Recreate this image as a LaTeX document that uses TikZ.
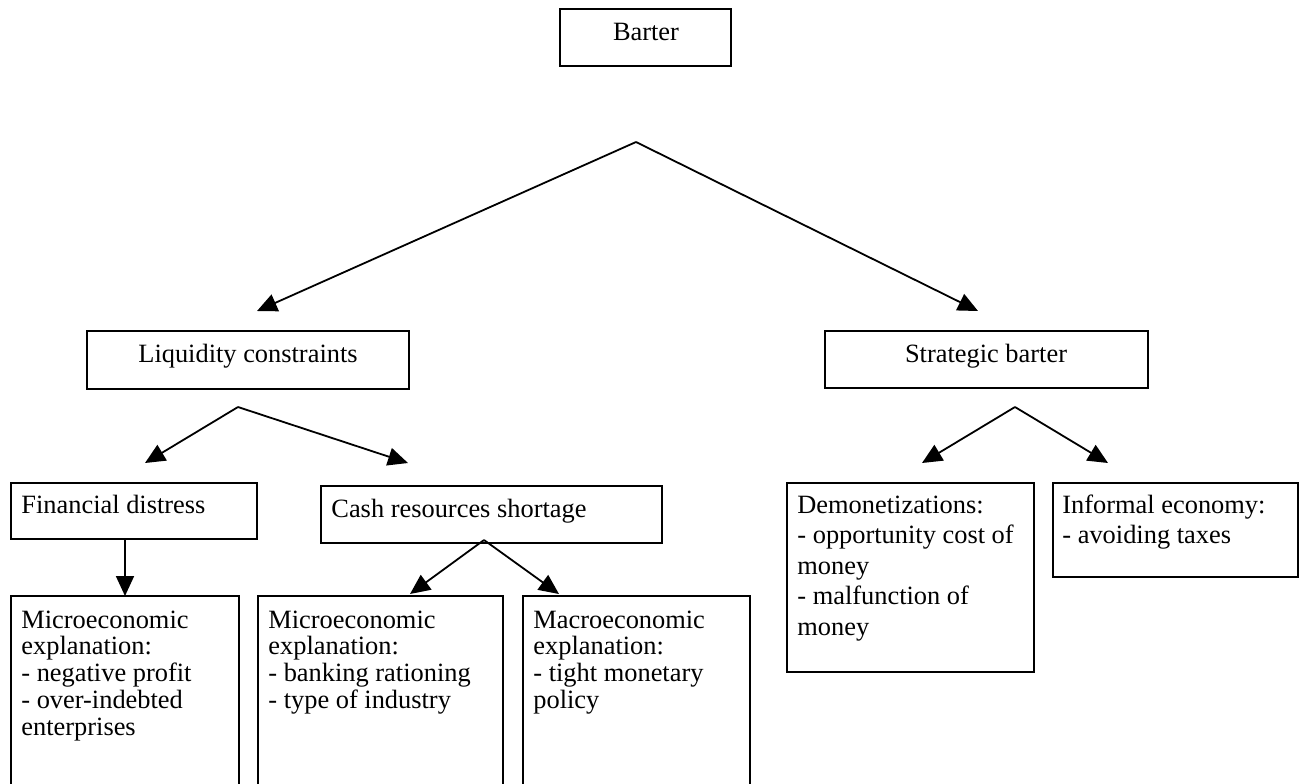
\documentclass[tikz,border=0pt]{standalone}
\usepackage{fontspec}
\setmainfont{Liberation Serif}
\usetikzlibrary{arrows.meta,positioning}

\newcommand{\boxlines}[1]{\begin{tabular}[t]{@{}l@{}}#1\end{tabular}}

\begin{document}
\begin{tikzpicture}[x=0.5pt, y=-0.5pt,
    box/.style={draw, line width=1pt, anchor=north west, inner sep=0pt, outer sep=0pt},
    txt/.style={anchor=base west, inner sep=0pt, font=\fontsize{13.2}{13.4}\selectfont},
    txtwide/.style={txt, font=\fontsize{13.2}{15.25}\selectfont},
    title/.style={txt, anchor=base},
    arr/.style={-{Triangle[length=10pt, width=9pt]}, line width=0.9pt}]
    \useasboundingbox (0,0) rectangle (1299,783);
    \clip (0,0) rectangle (1299,783);

    % Top level
    \node[box, minimum width=85.5pt, minimum height=28.5pt] (barter) at (560,9) {};
    \node[title] (barter-t) at (646,40) {Barter};

    % Second level
    \node[box, minimum width=161pt, minimum height=29pt] (liq) at (87,331) {};
    \node[title] (liq-t) at (248,362) {Liquidity constraints};
    \node[box, minimum width=161.5pt, minimum height=28.5pt] (strat) at (825,331) {};
    \node[title] (strat-t) at (986,362) {Strategic barter};

    % Third level
    \node[box, minimum width=123pt, minimum height=28pt] (fin) at (11,483) {};
    \node[txt] (fin-t) at (21,513) {Financial distress};
    \node[box, minimum width=170.5pt, minimum height=28.5pt] (cash) at (321,486) {};
    \node[txt] (cash-t) at (331,517) {Cash resources shortage};
    \node[box, minimum width=123.5pt, minimum height=94.5pt] (demon) at (787,483) {};
    \node[txtwide] (demon-t) at (797,513) {\boxlines{Demonetizations:\\- opportunity cost of\\money\\- malfunction of\\money}};
    \node[box, minimum width=122.5pt, minimum height=47pt] (informal) at (1053,483) {};
    \node[txtwide] (informal-t) at (1062,513) {\boxlines{Informal economy:\\- avoiding taxes}};

    % Bottom level (cut off by the page edge)
    \node[box, minimum width=114pt, minimum height=110pt] (micro1) at (11,596) {};
    \node[txt] (micro1-t) at (21,628) {\boxlines{Microeconomic\\explanation:\\- negative profit\\- over-indebted\\enterprises}};
    \node[box, minimum width=122.5pt, minimum height=110pt] (micro2) at (258,596) {};
    \node[txt] (micro2-t) at (268,628) {\boxlines{Microeconomic\\explanation:\\- banking rationing\\- type of industry}};
    \node[box, minimum width=113.5pt, minimum height=110pt] (macro) at (523,596) {};
    \node[txt] (macro-t) at (533,628) {\boxlines{Macroeconomic\\explanation:\\- tight monetary\\policy}};

    % Branch points and arrow ends
    \coordinate (split1) at (636,142);
    \coordinate (split2) at (238,407);
    \coordinate (split3) at (484,540);
    \coordinate (split4) at (1015,407);
    \coordinate (fin-out) at (125,539);

    % Arrows
    \draw[arr] (split1) -- (257,311);
    \draw[arr] (split1) -- (978,311);
    \draw[arr] (split2) -- (145,463);
    \draw[arr] (split2) -- (408,463);
    \draw[arr] (split3) -- (410,594);
    \draw[arr] (split3) -- (559,594);
    \draw[arr] (split4) -- (922,463);
    \draw[arr] (split4) -- (1108,463);
    \draw[arr] (fin-out) -- (fin-out |- micro1.north);
\end{tikzpicture}
\end{document}
